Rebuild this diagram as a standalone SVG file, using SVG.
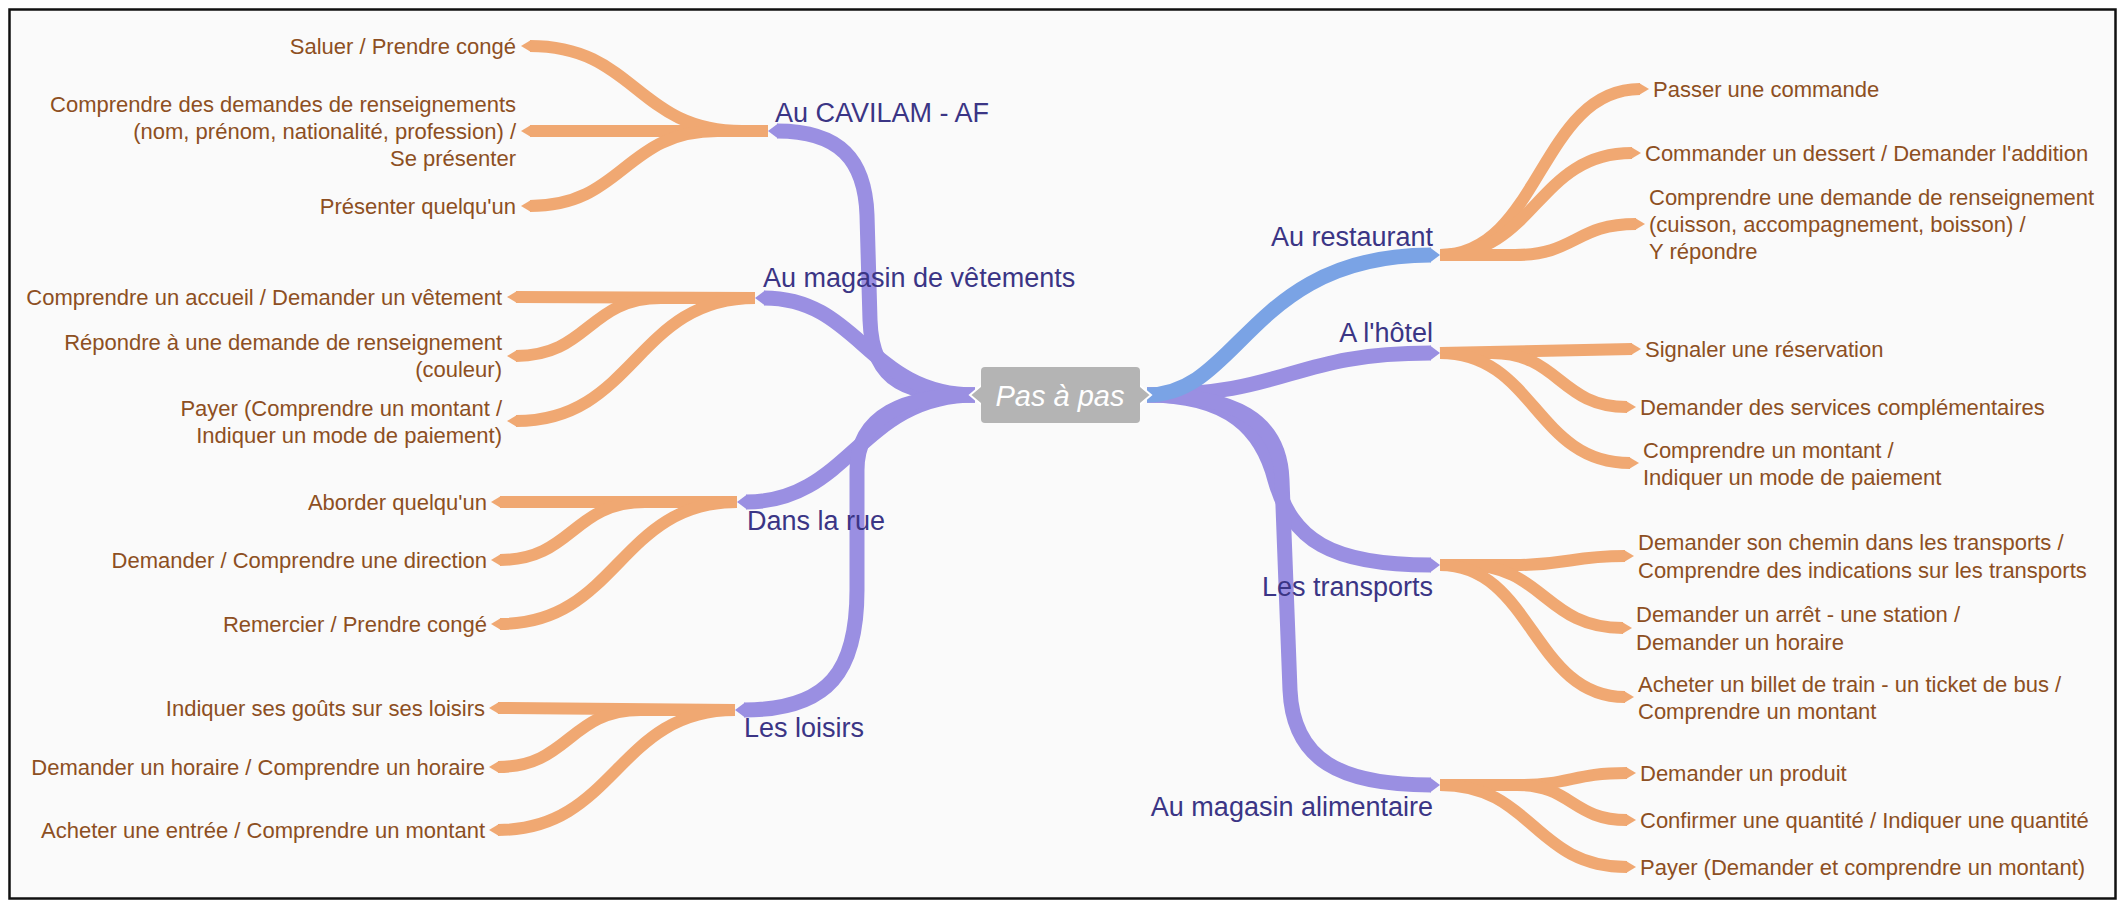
<svg xmlns="http://www.w3.org/2000/svg" width="2125" height="902" viewBox="0 0 2125 902">
<style>
.pb{fill:none;stroke:#9a8fe2;stroke-width:15}
.bb{fill:none;stroke:#7aa3e5;stroke-width:15}
.ob{fill:none;stroke:#f0a872;stroke-width:12}
.pt{fill:#9a8fe2}
.btp{fill:#7aa3e5}
.ot{fill:#f0a872}
.m{font-family:"Liberation Sans",Arial,sans-serif;font-size:27px;fill:#3b3585}
.l{font-family:"Liberation Sans",Arial,sans-serif;font-size:22px;fill:#8d4f22}
.e{text-anchor:end}
</style>
<rect x="0" y="0" width="2125" height="902" fill="#ffffff"/>
<rect x="9.5" y="9.5" width="2106" height="889" fill="#fafafa" stroke="#111111" stroke-width="2.5"/>
<g id="connectors">
  <!-- orange left -->
  <path class="ob" d="M768,131 H742 C636,131 636,46 530,46"/>
  <path class="ob" d="M768,131 L530,131"/>
  <path class="ob" d="M768,131 H717.5 C623.75,131 623.75,206 530,206"/>
  <path class="ob" d="M755,298 L516,297"/>
  <path class="ob" d="M755,298 H661 C588.5,298 588.5,356 516,356"/>
  <path class="ob" d="M755,298 C635.5,298 635.5,421 516,421"/>
  <path class="ob" d="M737,502 L500,502"/>
  <path class="ob" d="M737,502 H645 C572.5,502 572.5,560 500,560"/>
  <path class="ob" d="M737,502 C618.5,502 618.5,624 500,624"/>
  <path class="ob" d="M735,710 L498,708"/>
  <path class="ob" d="M735,710 H640.5 C569.25,710 569.25,767 498,767"/>
  <path class="ob" d="M735,710 C616.5,710 616.5,830 498,830"/>
  <polygon class="ot" points="521,46 531,40 531,52"/>
  <polygon class="ot" points="521,131 531,125 531,137"/>
  <polygon class="ot" points="521,206 531,200 531,212"/>
  <polygon class="ot" points="507,297 517,291 517,303"/>
  <polygon class="ot" points="507,356 517,350 517,362"/>
  <polygon class="ot" points="507,421 517,415 517,427"/>
  <polygon class="ot" points="491,502 501,496 501,508"/>
  <polygon class="ot" points="491,560 501,554 501,566"/>
  <polygon class="ot" points="491,624 501,618 501,630"/>
  <polygon class="ot" points="489,708 499,702 499,714"/>
  <polygon class="ot" points="489,767 499,761 499,773"/>
  <polygon class="ot" points="489,830 499,824 499,836"/>
  <!-- orange right -->
  <path class="ob" d="M1440,255 C1540,255 1540,89 1640,89"/>
  <path class="ob" d="M1440,255 C1536,255 1536,153 1632,153"/>
  <path class="ob" d="M1440,255 H1515 C1575.5,255 1575.5,224 1636,224"/>
  <path class="ob" d="M1440,353 L1632,349"/>
  <path class="ob" d="M1440,353 H1492 C1559.5,353 1559.5,407 1627,407"/>
  <path class="ob" d="M1440,353 C1535,353 1535,463 1630,463"/>
  <path class="ob" d="M1440,565 H1515 C1570,565 1570,556 1625,556"/>
  <path class="ob" d="M1440,565 H1465.5 C1544.25,565 1544.25,628 1623,628"/>
  <path class="ob" d="M1440,565 C1532.5,565 1532.5,697 1625,697"/>
  <path class="ob" d="M1440,785 H1517 C1572,785 1572,773 1627,773"/>
  <path class="ob" d="M1440,785 H1517 C1572,785 1572,820 1627,820"/>
  <path class="ob" d="M1440,785 C1533.5,785 1533.5,867 1627,867"/>
  <polygon class="ot" points="1649,89 1639,83 1639,95"/>
  <polygon class="ot" points="1641,153 1631,147 1631,159"/>
  <polygon class="ot" points="1645,224 1635,218 1635,230"/>
  <polygon class="ot" points="1641,349 1631,343 1631,355"/>
  <polygon class="ot" points="1636,407 1626,401 1626,413"/>
  <polygon class="ot" points="1639,463 1629,457 1629,469"/>
  <polygon class="ot" points="1634,556 1624,550 1624,562"/>
  <polygon class="ot" points="1632,628 1622,622 1622,634"/>
  <polygon class="ot" points="1634,697 1624,691 1624,703"/>
  <polygon class="ot" points="1636,773 1626,767 1626,779"/>
  <polygon class="ot" points="1636,820 1626,814 1626,826"/>
  <polygon class="ot" points="1636,867 1626,861 1626,873"/>
  <!-- main branches -->
  <path class="pb" d="M975,395 C910,395 872,385 870,320 L867,215 C865,160 840,131 777,131"/>
  <path class="pb" d="M975,395 C868,395 860,298 764,298"/>
  <path class="pb" d="M975,395 C860,395 850,502 746,502"/>
  <path class="pb" d="M975,395 C905,395 857,415 857,470 L857,590 C857,670 830,710 744,710"/>
  <path class="pb" d="M1147,395 C1290,395 1290,353 1431,353"/>
  <path class="pb" d="M1147,395 C1230,395 1262,430 1275,480 C1292,540 1330,565 1431,565"/>
  <path class="pb" d="M1147,395 C1235,395 1280,420 1282,480 L1290,690 C1293,760 1340,785 1431,785"/>
  <path class="bb" d="M1147,395 C1240,395 1250,255 1431,255"/>
  <polygon class="pt" points="768,131 778,123.5 778,138.5"/>
  <polygon class="pt" points="755,298 765,290.5 765,305.5"/>
  <polygon class="pt" points="737,502 747,494.5 747,509.5"/>
  <polygon class="pt" points="735,710 745,702.5 745,717.5"/>
  <polygon class="btp" points="1440,255 1430,247.5 1430,262.5"/>
  <polygon class="pt" points="1440,353 1430,345.5 1430,360.5"/>
  <polygon class="pt" points="1440,565 1430,557.5 1430,572.5"/>
  <polygon class="pt" points="1440,785 1430,777.5 1430,792.5"/>
</g>
<g id="root">
  <polygon points="983,384 970,395 983,406" fill="#b4b4b4" stroke="#ffffff" stroke-width="2"/>
  <polygon points="1138,384 1151,395 1138,406" fill="#b4b4b4" stroke="#ffffff" stroke-width="2"/>
  <rect x="981" y="367" width="159" height="56" rx="4" fill="#b4b4b4"/>
  <text x="1060" y="406" text-anchor="middle" font-family="'Liberation Sans',Arial,sans-serif" font-size="29" font-style="italic" fill="#ffffff">Pas à pas</text>
</g>
<g id="n-cavilam"><text class="m" x="775" y="122">Au CAVILAM - AF</text></g>
<g id="n-vetements"><text class="m" x="763" y="287">Au magasin de vêtements</text></g>
<g id="n-rue"><text class="m" x="747" y="530">Dans la rue</text></g>
<g id="n-loisirs"><text class="m" x="744" y="737">Les loisirs</text></g>
<g id="n-restaurant"><text class="m e" x="1433" y="246">Au restaurant</text></g>
<g id="n-hotel"><text class="m e" x="1433" y="342">A l'hôtel</text></g>
<g id="n-transports"><text class="m e" x="1433" y="596">Les transports</text></g>
<g id="n-alimentaire"><text class="m e" x="1433" y="816">Au magasin alimentaire</text></g>
<g id="l-saluer"><text class="l e" x="516" y="54">Saluer / Prendre congé</text></g>
<g id="l-comprendre-demandes"><text class="l e" x="516" y="112">Comprendre des demandes de renseignements</text><text class="l e" x="516" y="139">(nom, prénom, nationalité, profession) /</text><text class="l e" x="516" y="166">Se présenter</text></g>
<g id="l-presenter"><text class="l e" x="516" y="214">Présenter quelqu'un</text></g>
<g id="l-accueil"><text class="l e" x="502" y="305">Comprendre un accueil / Demander un vêtement</text></g>
<g id="l-repondre"><text class="l e" x="502" y="350">Répondre à une demande de renseignement</text><text class="l e" x="502" y="377">(couleur)</text></g>
<g id="l-payer-v"><text class="l e" x="502" y="416">Payer (Comprendre un montant /</text><text class="l e" x="502" y="443">Indiquer un mode de paiement)</text></g>
<g id="l-aborder"><text class="l e" x="487" y="510">Aborder quelqu'un</text></g>
<g id="l-direction"><text class="l e" x="487" y="568">Demander / Comprendre une direction</text></g>
<g id="l-remercier"><text class="l e" x="487" y="632">Remercier / Prendre congé</text></g>
<g id="l-gouts"><text class="l e" x="485" y="716">Indiquer ses goûts sur ses loisirs</text></g>
<g id="l-horaire"><text class="l e" x="485" y="775">Demander un horaire / Comprendre un horaire</text></g>
<g id="l-entree"><text class="l e" x="485" y="838">Acheter une entrée / Comprendre un montant</text></g>
<g id="l-passer"><text class="l" x="1653" y="97">Passer une commande</text></g>
<g id="l-dessert"><text class="l" x="1645" y="161">Commander un dessert / Demander l'addition</text></g>
<g id="l-cuisson"><text class="l" x="1649" y="205">Comprendre une demande de renseignement</text><text class="l" x="1649" y="232">(cuisson, accompagnement, boisson) /</text><text class="l" x="1649" y="259">Y répondre</text></g>
<g id="l-reservation"><text class="l" x="1645" y="357">Signaler une réservation</text></g>
<g id="l-services"><text class="l" x="1640" y="415">Demander des services complémentaires</text></g>
<g id="l-montant-h"><text class="l" x="1643" y="458">Comprendre un montant /</text><text class="l" x="1643" y="485">Indiquer un mode de paiement</text></g>
<g id="l-chemin"><text class="l" x="1638" y="550">Demander son chemin dans les transports /</text><text class="l" x="1638" y="578">Comprendre des indications sur les transports</text></g>
<g id="l-arret"><text class="l" x="1636" y="622">Demander un arrêt - une station /</text><text class="l" x="1636" y="650">Demander un horaire</text></g>
<g id="l-billet"><text class="l" x="1638" y="692">Acheter un billet de train - un ticket de bus /</text><text class="l" x="1638" y="719">Comprendre un montant</text></g>
<g id="l-produit"><text class="l" x="1640" y="781">Demander un produit</text></g>
<g id="l-quantite"><text class="l" x="1640" y="828">Confirmer une quantité / Indiquer une quantité</text></g>
<g id="l-payer-a"><text class="l" x="1640" y="875">Payer (Demander et comprendre un montant)</text></g>
</svg>
